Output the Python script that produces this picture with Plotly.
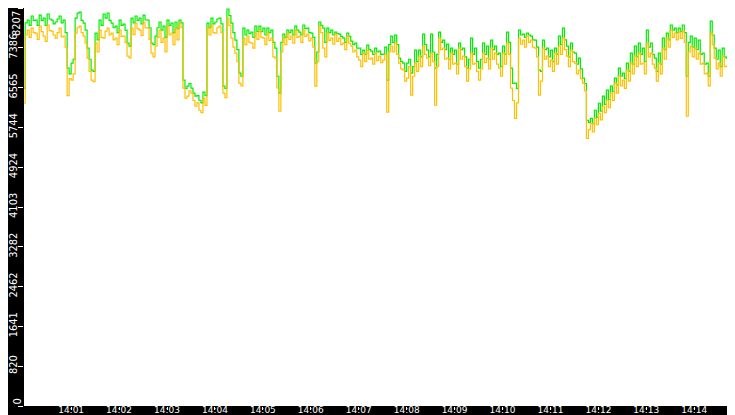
import pandas as pd
import plotly.graph_objects as go

# samples every 2.5 s starting 14:00:00
start_time = "2024-01-01 14:00:00"
step = "2500ms"

orange = [
    6243, 7650, 7752, 7600, 7793, 7700, 7690, 7560, 7835, 7720,
    7628, 7520, 7856, 7740, 7731, 7650, 7587, 7700, 7793, 7610,
    7628, 7400, 6400, 6750, 6719, 6850, 7690, 7800, 7835, 7700,
    7628, 7480, 7173, 6900, 6719, 6690, 7484, 7300, 7752, 7600,
    7587, 7730, 7793, 7650, 7690, 7550, 7587, 7450, 7752, 7620,
    7628, 7500, 7215, 7180, 7793, 7660, 7897, 7780, 7752, 7640,
    7918, 7800, 7793, 7560, 7277, 7200, 7422, 7600, 7752, 7500,
    7587, 7300, 7835, 7650, 7690, 7450, 7793, 7550, 7897, 7800,
    6553, 6350, 6388, 6500, 6450, 6300, 6181, 6250, 6099, 6050,
    6347, 6200, 7793, 7650, 7856, 7700, 7690, 7800, 7835, 7700,
    6450, 6360, 8000, 7850, 7587, 7400, 7277, 7100, 6657, 6600,
    7587, 7450, 7628, 7500, 7484, 7380, 7690, 7560, 7752, 7600,
    7587, 7450, 7690, 7540, 7587, 7200, 7173, 6560, 6078, 7300,
    7587, 7450, 7690, 7560, 7628, 7480, 7752, 7600, 7628, 7500,
    7752, 7620, 7670, 7530, 7587, 7400, 6595, 7100, 7835, 7700,
    7380, 7200, 7690, 7540, 7587, 7460, 7670, 7520, 7587, 7450,
    7484, 7350, 7628, 7480, 7422, 7300, 7339, 7200, 7132, 7000,
    7277, 7100, 7339, 7150, 7173, 7050, 7277, 7120, 7215, 7080,
    7132, 7250, 6060, 7300, 7422, 7300, 7484, 7250, 7070, 6950,
    6926, 6700, 6760, 7000, 6409, 6800, 7070, 6900, 7215, 7000,
    7422, 7250, 7173, 7020, 7277, 7100, 6202, 7000, 7587, 7350,
    7380, 7150, 7173, 6950, 7277, 7050, 7070, 6850, 7380, 7150,
    7215, 7000, 6698, 6950, 7277, 7050, 7070, 6900, 6719, 6950,
    7277, 7080, 7173, 6950, 7380, 7150, 7277, 7050, 6967, 6800,
    7277, 7050, 7484, 7250, 6553, 6300, 5933, 6250, 7587, 7460,
    7546, 7400, 7628, 7500, 7546, 7400, 7380, 7200, 6409, 6700,
    7380, 7150, 7215, 7000, 7132, 6900, 7277, 7050, 7422, 7250,
    7587, 7350, 7215, 7000, 7339, 7100, 7070, 6850, 6926, 6750,
    6657, 6500, 5520, 5700, 5830, 5650, 5933, 5800, 6037, 5900,
    6181, 6050, 6305, 6150, 6450, 6300, 6657, 6450, 6801, 6600,
    6719, 6550, 6926, 6700, 7070, 6850, 7215, 7000, 7277, 7050,
    7070, 6850, 7484, 7200, 7277, 7050, 6967, 6700, 7070, 6850,
    7380, 7150, 7587, 7400, 7752, 7600, 7690, 7550, 7711, 7580,
    7731, 7500, 5975, 7300, 7422, 7200, 7380, 7150, 7277, 7050,
    7070, 6850, 6863, 6600, 7690, 7450, 7173, 6950, 7070, 6800,
    7215, 7000, 7008, 6750, 6863, 6650, 6202, 6800, 6600, 3576,
    0,
]

green = [
    6553, 7900, 7959, 7850, 8042, 7950, 7959, 7850, 8062, 7950,
    8000, 7850, 8083, 7980, 7959, 7880, 7918, 7980, 8042, 7900,
    7959, 7700, 6967, 6850, 7070, 7150, 8000, 8100, 8124, 7950,
    7897, 7750, 7380, 7150, 6926, 6900, 7690, 7550, 7959, 7850,
    8083, 8000, 8104, 7950, 7897, 7800, 7835, 7700, 7959, 7850,
    7876, 7750, 7484, 7420, 8000, 7900, 8042, 7950, 8000, 7880,
    8062, 7960, 7959, 7800, 7484, 7450, 7628, 7800, 7918, 7750,
    7835, 7600, 7959, 7850, 7897, 7700, 7918, 7780, 7959, 7900,
    6719, 6550, 6595, 6650, 6553, 6450, 6388, 6400, 6305, 6250,
    6471, 6400, 7897, 7800, 8000, 7880, 7918, 7980, 8000, 7880,
    6595, 6550, 8186, 8050, 7897, 7700, 7546, 7350, 6863, 6800,
    7793, 7650, 7752, 7680, 7711, 7600, 7835, 7720, 7835, 7720,
    7793, 7650, 7793, 7700, 7752, 7500, 7380, 6800, 6450, 7500,
    7670, 7600, 7752, 7700, 7752, 7650, 7835, 7750, 7711, 7650,
    7856, 7780, 7793, 7700, 7690, 7600, 7070, 7300, 7918, 7850,
    7793, 7500, 7793, 7700, 7752, 7650, 7711, 7680, 7670, 7620,
    7587, 7500, 7690, 7620, 7525, 7450, 7484, 7380, 7380, 7250,
    7339, 7250, 7442, 7350, 7318, 7250, 7380, 7300, 7318, 7250,
    7256, 7400, 6719, 7450, 7628, 7500, 7649, 7450, 7173, 7100,
    7070, 6900, 7070, 7150, 6863, 7000, 7339, 7100, 7339, 7200,
    7670, 7450, 7339, 7200, 7670, 7300, 6967, 7250, 7711, 7500,
    7546, 7350, 7463, 7150, 7380, 7250, 7339, 7050, 7484, 7350,
    7380, 7200, 6967, 7150, 7587, 7250, 7380, 7100, 6967, 7150,
    7484, 7250, 7422, 7150, 7546, 7350, 7422, 7250, 7277, 7000,
    7422, 7250, 7711, 7500, 6967, 6650, 6657, 6550, 7752, 7650,
    7670, 7600, 7690, 7650, 7628, 7550, 7546, 7400, 6926, 6900,
    7546, 7350, 7380, 7200, 7339, 7100, 7380, 7250, 7628, 7450,
    7793, 7550, 7422, 7200, 7484, 7300, 7277, 7050, 7173, 6950,
    6760, 6650, 5892, 5850, 5933, 5820, 6099, 5950, 6243, 6080,
    6388, 6220, 6512, 6320, 6595, 6480, 6760, 6620, 6967, 6800,
    6863, 6750, 7070, 6900, 7277, 7050, 7422, 7200, 7484, 7250,
    7380, 7100, 7752, 7400, 7484, 7250, 7173, 6900, 7277, 7050,
    7587, 7350, 7690, 7550, 7856, 7750, 7793, 7700, 7793, 7720,
    7856, 7700, 6800, 7500, 7628, 7400, 7587, 7350, 7546, 7250,
    7277, 7050, 7070, 6800, 7938, 7650, 7380, 7150, 7339, 7000,
    7380, 7200, 7173, 6950, 7070, 6850, 6400, 6950, 6800, 3576,
    0,
]

y_ticks = [0, 820, 1641, 2462, 3282, 4103, 4924, 5744, 6565, 7386, 8207]

label_font = dict(family="Liberation Sans Narrow, DejaVu Sans Condensed", size=11, color="white")

times = pd.date_range(start_time, periods=len(orange), freq=step)

fig = go.Figure()

fig.add_trace(
    go.Scatter(
        x=times,
        y=green,
        mode="lines",
        line=dict(color="#00ee00", width=1.2, shape="hv"),
    )
)
fig.add_trace(
    go.Scatter(
        x=times,
        y=orange,
        mode="lines",
        line=dict(color="#ffc000", width=1.2, shape="hv"),
    )
)

fig.update_xaxes(
    range=["2024-01-01 14:00:01", "2024-01-01 14:15:01"],
    tick0="2024-01-01 14:00:00",
    dtick=60000,
    tickformat="%H:%M",
    ticks="outside",
    ticklen=3,
    tickcolor="white",
    tickfont=dict(family="DejaVu Sans", size=9, color="white"),
    ticklabelstandoff=-8,
    automargin=False,
    showgrid=False,
    zeroline=False,
    showline=False,
)
# edge labels are drawn as annotations so they stay inside the picture
fig.update_yaxes(
    range=[0, 8207],
    tickvals=y_ticks,
    ticktext=[""] + [str(v) for v in y_ticks[1:-1]] + [""],
    tickangle=-90,
    ticks="outside",
    ticklen=5,
    tickcolor="white",
    tickfont=label_font,
    ticklabelstandoff=-3,
    automargin=False,
    showgrid=False,
    zeroline=False,
    showline=False,
)

fig.add_annotation(
    text=str(y_ticks[-1]),
    xref="paper",
    yref="paper",
    x=0,
    y=1,
    xanchor="left",
    yanchor="top",
    xshift=-16,
    yshift=-1,
    textangle=-90,
    showarrow=False,
    font=label_font,
)
fig.add_annotation(
    text=str(y_ticks[0]),
    xref="paper",
    yref="paper",
    x=0,
    y=0,
    xanchor="left",
    yanchor="bottom",
    xshift=-16,
    yshift=-1,
    textangle=-90,
    showarrow=False,
    font=label_font,
)

fig.update_layout(
    width=735,
    height=415,
    margin=dict(l=16, r=0, t=0, b=17),
    paper_bgcolor="black",
    plot_bgcolor="white",
    showlegend=False,
)

fig.write_html("out.html")
